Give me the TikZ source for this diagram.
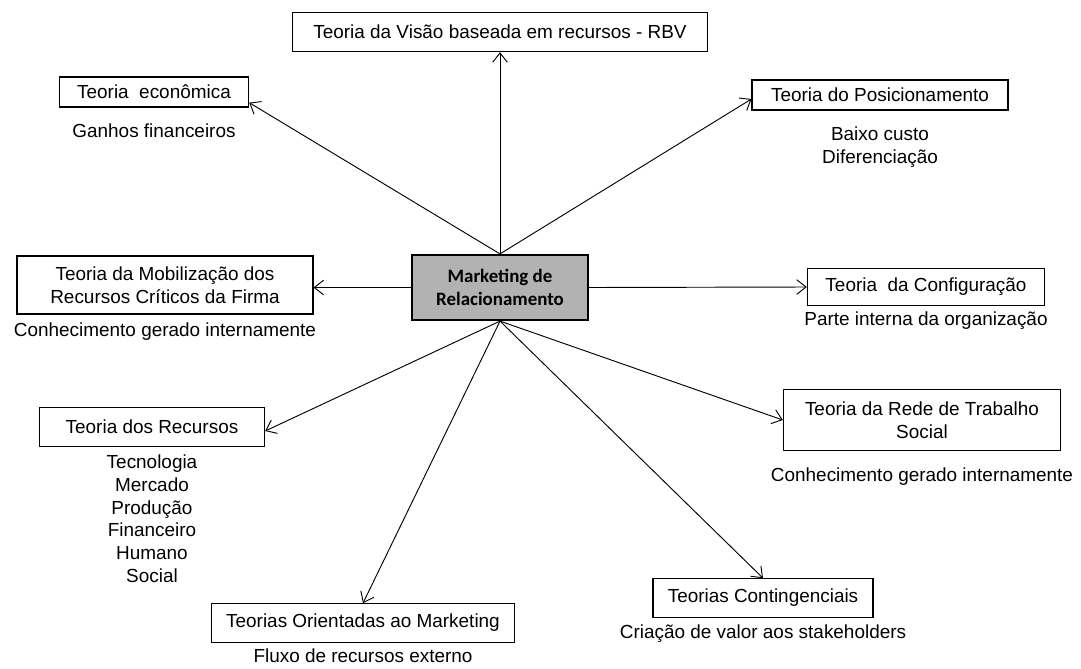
\documentclass[tikz,border=0pt]{standalone}
\usepackage{fontspec}
\setmainfont{Liberation Sans}
\newfontfamily\carlito{Carlito}
\usetikzlibrary{positioning,arrows.meta}
\tikzset{%
  liga/.style = {-{Straight Barb[length=7pt,width=11pt]},line width=0.7pt},
  r/.style = {rectangle,draw,line width=0.8pt,minimum height=22.5pt,
        align=center,inner sep=2pt},
  m/.style = {rectangle,draw,line width=1.4pt,fill=black!30,align=center,
        minimum width=132pt,minimum height=49pt,
        font=\fontsize{14.2}{17}\selectfont\carlito\bfseries},
  t/.style = {align=center,inner sep=1pt}
}

\begin{document}
\begin{tikzpicture}[x=0.75pt,y=-0.75pt,
  font=\fontsize{14.2}{17}\selectfont
]
\useasboundingbox (0,0) rectangle (1081,668);
% centro
\node[m] (mk) at (500,287.5) {Marketing de\\Relacionamento};
% teorias
\node[r,minimum width=311pt,minimum height=29.5pt] (rbv) at (500,32) {Teoria da Visão baseada em recursos - RBV};
\node[r,minimum width=142pt] (econ) at (154,92) {Teoria\ \ econômica};
\node[r,minimum width=192pt] (posic) at (880,95) {Teoria do Posicionamento};
\node[r,minimum width=222pt,minimum height=43.5pt] (mobil) at (165,285) {Teoria da Mobilização dos\\Recursos Críticos da Firma};
\node[r,minimum width=178pt,minimum height=28pt] (config) at (926,287) {Teoria\ \ da Configuração};
\node[r,minimum width=208pt,minimum height=46pt] (rede) at (922,420) {Teoria da Rede de Trabalho\\Social};
\node[r,minimum width=169pt,minimum height=29pt] (recur) at (152,427) {Teoria dos Recursos};
\node[r,minimum width=165pt,minimum height=29pt] (conting) at (763,598) {Teorias Contingenciais};
\node[r,minimum width=227pt,minimum height=29pt] (orient) at (363,623) {Teorias Orientadas ao Marketing};
% textos
\node[t,below=11pt of econ] (econtxt) {Ganhos financeiros};
\node[t,below=11pt of posic] (posictxt) {Baixo custo\\Diferenciação};
\node[t,below=5pt of mobil] (mobiltxt) {Conhecimento gerado internamente};
\node[t,below=3pt of config] (configtxt) {Parte interna da organização};
\node[t,below=11pt of rede] (redetxt) {Conhecimento gerado internamente};
\node[t,below=5pt of recur] (recurtxt) {Tecnologia\\Mercado\\Produção\\Financeiro\\Humano\\Social};
\node[t,below=4pt of conting] (contingtxt) {Criação de valor aos stakeholders};
\node[t,below=3pt of orient] (orienttxt) {Fluxo de recursos externo};
% ligacoes
\draw[liga] (mk.north) -- (rbv.south);
\draw[liga] (mk.north) -- ([yshift=-8pt]econ.east);
\draw[liga] (mk.north) -- ([yshift=-3pt]posic.west);
\draw[liga] (mk.west) -- (mk.west -| mobil.east);
\draw[liga] (mk.east) -- (config.west);
\draw[liga] (mk.south) -- ([yshift=-3pt]recur.east);
\draw[liga] (mk.south) -- (rede.west);
\draw[liga] (mk.south) -- (conting.north);
\draw[liga] (mk.south) -- (orient.north);
\end{tikzpicture}
\end{document}
